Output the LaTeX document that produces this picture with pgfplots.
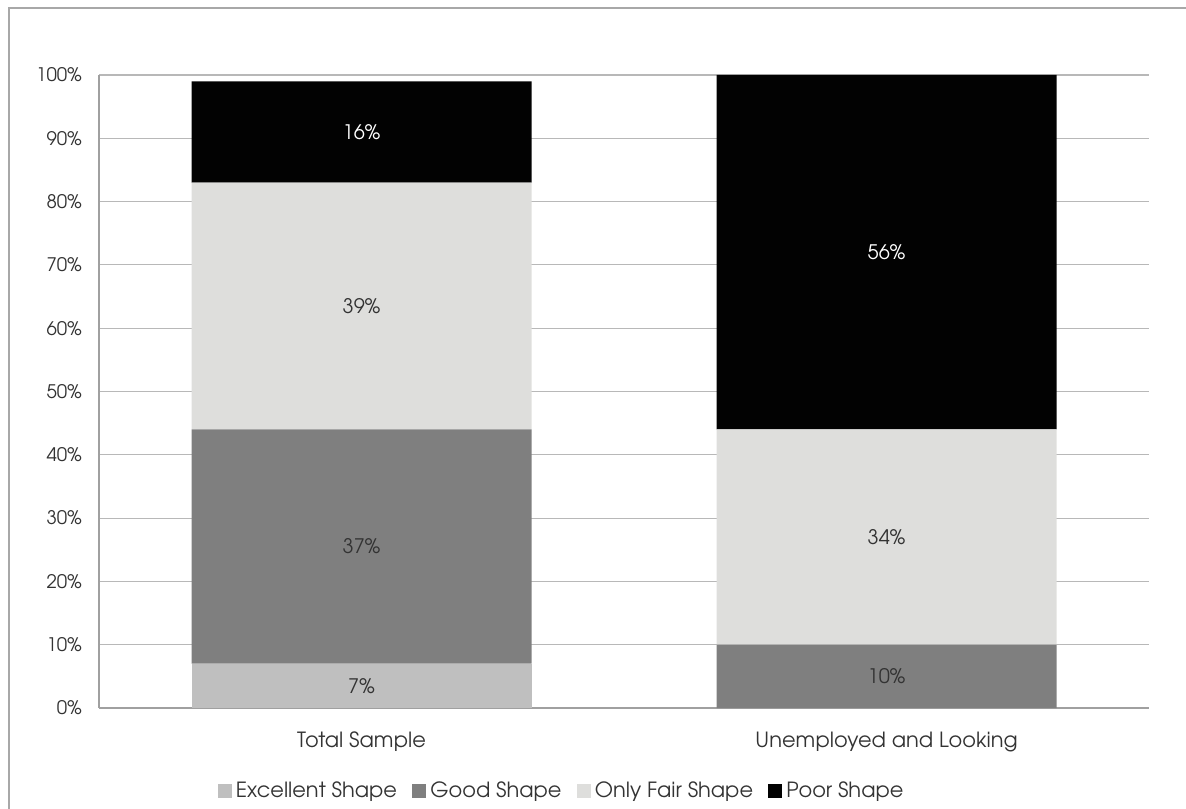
\documentclass[border=0pt]{standalone}
\usepackage{fontspec}
\setmainfont{TeX Gyre Adventor}
\usepackage{pgfplots}
\pgfplotsset{compat=1.18}
\definecolor{exc}{HTML}{BFBFBF}
\definecolor{good}{HTML}{7F7F7F}
\definecolor{fair}{HTML}{DEDEDC}
\definecolor{poor}{HTML}{020202}
\definecolor{gridcol}{HTML}{B8B8B8}
\definecolor{axiscol}{HTML}{A0A0A0}
\definecolor{framecol}{HTML}{A8A8A8}
\definecolor{textcol}{HTML}{333333}
\pgfplotsset{sqlegend/.style={legend image code/.code={\fill[##1] (0pt,-5.25pt) rectangle (10.5pt,5.25pt);}}}
\begin{document}
\begin{tikzpicture}[x=0.75pt,y=0.75pt,font=\fontsize{14}{17}\selectfont]
\useasboundingbox (0,0) rectangle (1186,808);
\draw[framecol, line width=1.1pt] (9,-10) -- (9,800) -- (1200,800);
\begin{axis}[
  at={(74.25pt,75pt)}, anchor=south west,
  scale only axis, width=787.5pt, height=474.75pt,
  ybar stacked, bar width=255pt,
  xmin=-0.5, xmax=1.5, ymin=0, ymax=100,
  xtick={0,1}, xticklabels={Total Sample, Unemployed and Looking},
  ytick={0,10,20,30,40,50,60,70,80,90,100},
  yticklabels={0\%,10\%,20\%,30\%,40\%,50\%,60\%,70\%,80\%,90\%,100\%},
  axis x line*=bottom, axis y line*=left,
  major tick length=0pt,
  ymajorgrids, grid style={gridcol, line width=0.9pt},
  axis line style={axiscol, line width=0.9pt},
  tick label style={text=textcol, font=\fontsize{14}{17}\selectfont},
  xticklabel style={anchor=base, yshift=-29.25pt, font=\fontsize{15.7}{18}\selectfont},
  yticklabel style={anchor=east, inner sep=0pt, xshift=-12.75pt},
  legend columns=4,
  legend style={draw=none, fill=none, at={(0.441,-0.131)}, anchor=center,
    text=textcol, font=\fontsize{15.7}{18}\selectfont,
    /tikz/every even column/.append style={column sep=9.5pt},
    /tikz/every odd column/.append style={column sep=1pt}},
]
\addplot[fill=exc, draw=none, sqlegend] coordinates {(0,7) (1,0)};
\addplot[fill=good, draw=none, sqlegend] coordinates {(0,37) (1,10)};
\addplot[fill=fair, draw=none, sqlegend] coordinates {(0,39) (1,34)};
\addplot[fill=poor, draw=none, sqlegend] coordinates {(0,16) (1,56)};
\legend{Excellent Shape, Good Shape, Only Fair Shape, Poor Shape}
\coordinate (a1) at (axis cs:0,3.5);
\coordinate (a2) at (axis cs:0,25.5);
\coordinate (a3) at (axis cs:0,63.5);
\coordinate (a4) at (axis cs:0,91);
\coordinate (b2) at (axis cs:1,5);
\coordinate (b3) at (axis cs:1,27);
\coordinate (b4) at (axis cs:1,72);
\end{axis}
\begin{scope}[font=\fontsize{15}{18}\selectfont]
\node[text=textcol] at (a1) {7\%};
\node[text=textcol] at (a2) {37\%};
\node[text=textcol] at (a3) {39\%};
\node[text=white] at (a4) {16\%};
\node[text=textcol] at (b2) {10\%};
\node[text=textcol] at (b3) {34\%};
\node[text=white] at (b4) {56\%};
\end{scope}
\end{tikzpicture}
\end{document}
